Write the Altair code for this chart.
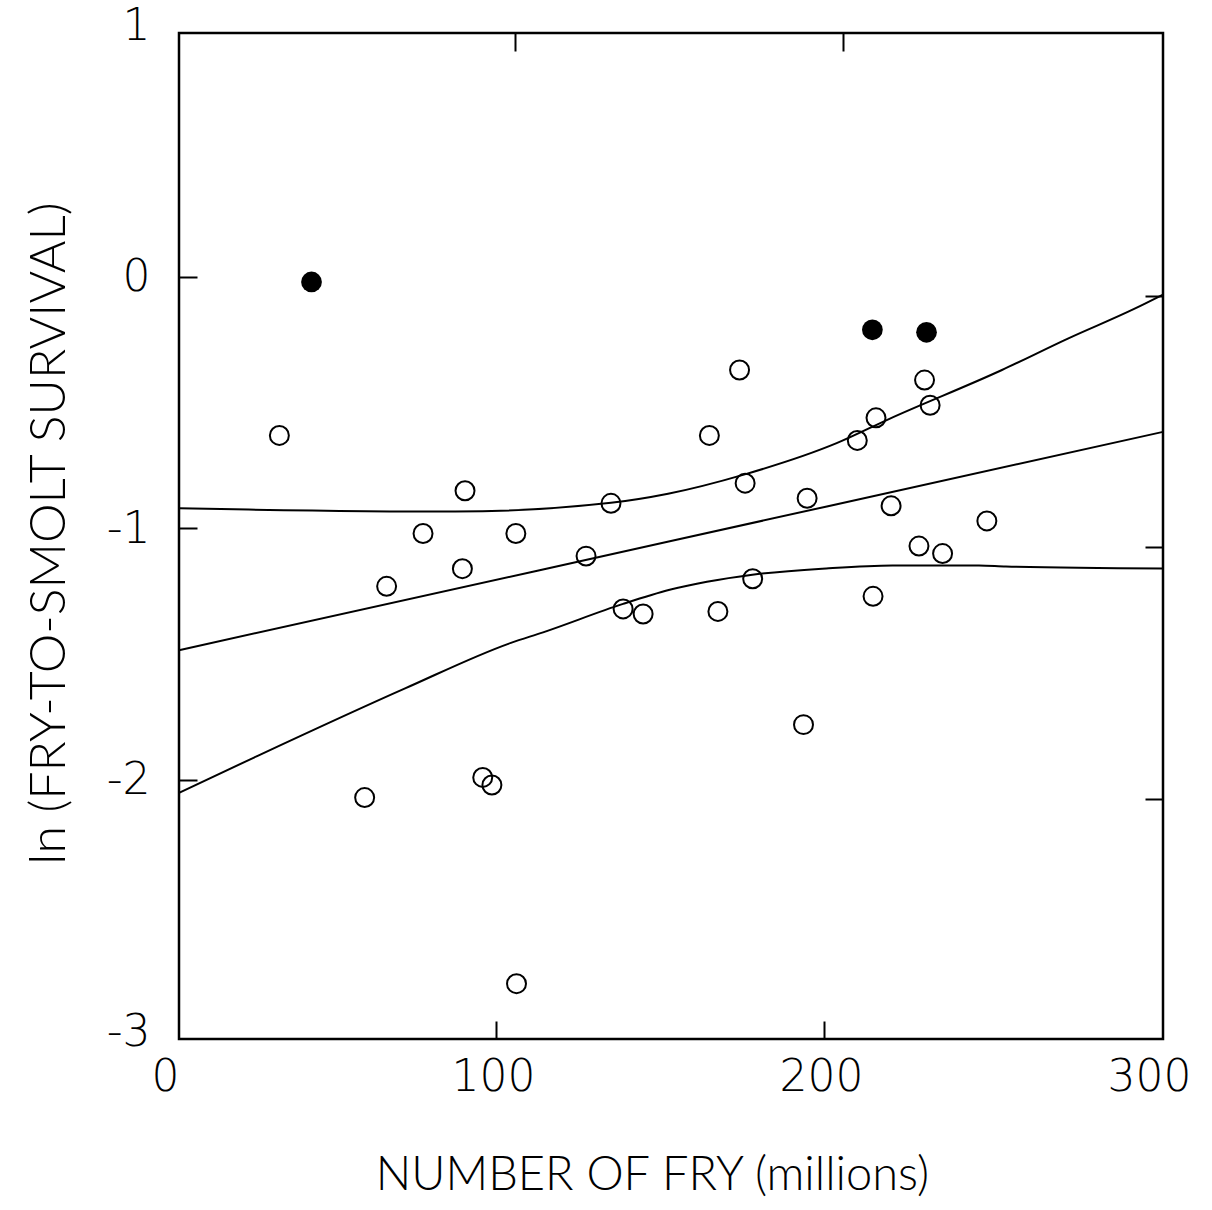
import altair as alt
import pandas as pd

# Observed years: number of fry (millions) and ln(fry-to-smolt survival)
fry_open = [30.6, 56.6, 63.3, 74.4, 86.4, 87.2, 92.6, 95.4, 102.9, 102.7,
            124.1, 131.7, 135.4, 141.5, 161.7, 164.3, 170.9, 172.6, 174.9, 190.4,
            191.5, 206.8, 211.6, 212.5, 217.1, 225.6, 227.3, 229.0, 232.8, 246.3]
surv_open = [-0.60, -2.04, -1.20, -0.99, -1.13, -0.82, -1.96, -1.99, -2.78, -0.99,
             -1.08, -0.87, -1.29, -1.31, -0.60, -1.30, -0.34, -0.79, -1.17, -1.75,
             -0.85, -0.62, -1.24, -0.53, -0.88, -1.04, -0.38, -0.48, -1.07, -0.94]

# Highlighted years (solid symbols)
fry_filled = [40.4, 211.4, 227.9]
surv_filled = [0.01, -0.18, -0.19]

# Regression line and its confidence band
fit_fry = [0, 149.3, 300]
fit_surv = [-1.454, -1.022, -0.586]
upper_fry = [0, 21.2, 84.2, 131.7, 149.1, 172.5, 200.5, 216.6, 250.9, 271.0, 291.2, 300]
upper_surv = [-0.890, -0.895, -0.903, -0.868, -0.832, -0.755, -0.631, -0.534, -0.340, -0.215, -0.097, -0.040]
lower_fry = [0, 22.7, 69.1, 101.2, 111.0, 135.4, 149.6, 174.8, 197.3, 217.5, 243.9, 252.1, 300]
lower_surv = [-2.021, -1.882, -1.605, -1.425, -1.383, -1.270, -1.214, -1.154, -1.129, -1.117, -1.117, -1.121, -1.129]

x_ticks = [0, 100, 200, 300]
y_ticks = [-3, -2, -1, 0, 1]

open_df = pd.DataFrame({"fry": fry_open, "surv": surv_open})
filled_df = pd.DataFrame({"fry": fry_filled, "surv": surv_filled})
lines_df = pd.concat([
    pd.DataFrame({"fry": fit_fry, "surv": fit_surv, "curve": "fit"}),
    pd.DataFrame({"fry": upper_fry, "surv": upper_surv, "curve": "upper"}),
    pd.DataFrame({"fry": lower_fry, "surv": lower_surv, "curve": "lower"}),
], ignore_index=True)

NUM_FONT = "DejaVu Sans"
TITLE_FONT = "Lato"

x_scale = alt.Scale(domain=[0, 300], nice=False, zero=False)
y_scale = alt.Scale(domain=[-3, 1], nice=False, zero=False)

tick_style = dict(domain=False, grid=False, tickSize=18, tickWidth=2,
                  tickColor="black", offset=-18)

# ticks that would sit on the frame corners are hidden
x_corner_hide = {"condition": {"test": "datum.value == 0 || datum.value == 300", "value": 0}, "value": 1}
y_corner_hide = {"condition": {"test": "datum.value == -3 || datum.value == 1", "value": 0}, "value": 1}

x_bottom = alt.Axis(
    orient="bottom", values=x_ticks, tickOffset=-11, labelOffset=-3,
    tickOpacity=x_corner_hide,
    labelFont=NUM_FONT, labelFontSize=44, labelFontWeight=200, labelColor="black",
    labelPadding=16, labelFlush=False, labelOverlap=False,
    title="NUMBER OF FRY (millions)", titleFont=TITLE_FONT, titleFontSize=47,
    titleFontWeight=300, titleColor="black", titleX=473, titleY=168,
    titleAlign="center", titleBaseline="alphabetic",
    **tick_style,
)
y_left = alt.Axis(
    orient="left", values=y_ticks, tickOffset=-8, labelOffset=1,
    tickOpacity=y_corner_hide,
    labelExpr="datum.value < 0 ? '-' + format(-datum.value, 'd') : format(datum.value, 'd')",
    labelFont=NUM_FONT, labelFontSize=44, labelFontWeight=200, labelColor="black",
    labelPadding=29, labelFlush=False, labelOverlap=False,
    title="ln (FRY-TO-SMOLT SURVIVAL)", titleFont=TITLE_FONT, titleFontSize=50,
    titleFontWeight=300, titleColor="black", titleX=-133, titleY=500,
    titleAngle=270, titleAlign="center", titleBaseline="alphabetic",
    **tick_style,
)
x_top = alt.Axis(orient="top", values=[100, 200], tickOffset=8, labels=False,
                 title=None, **tick_style)
y_right = alt.Axis(orient="right", values=[-2, -1, 0], tickOffset=11, labels=False,
                   title=None, **tick_style)

lines = alt.Chart(lines_df).mark_line(
    color="black", strokeWidth=2, interpolate="monotone"
).encode(
    x=alt.X("fry:Q", scale=x_scale, axis=x_top),
    y=alt.Y("surv:Q", scale=y_scale, axis=y_right),
    detail="curve:N",
)

open_pts = alt.Chart(open_df).mark_point(
    shape="circle", filled=False, color="black", strokeWidth=2, size=360, opacity=1
).encode(
    x=alt.X("fry:Q", scale=x_scale, axis=x_bottom),
    y=alt.Y("surv:Q", scale=y_scale, axis=y_left),
)

filled_pts = alt.Chart(filled_df).mark_point(
    shape="circle", filled=True, color="black", size=430, opacity=1
).encode(
    x=alt.X("fry:Q", scale=x_scale, axis=None),
    y=alt.Y("surv:Q", scale=y_scale, axis=None),
)

chart = alt.layer(lines, open_pts, filled_pts).resolve_axis(
    x="independent", y="independent"
).properties(
    width=984, height=1006,
    autosize=alt.AutoSizeParams(type="none"),
    padding={"left": 179, "top": 33, "right": 49, "bottom": 171},
    background="white",
).configure_view(stroke="black", strokeWidth=2.5)

chart.save("out.html", embed_options={"renderer": "svg", "actions": False})
